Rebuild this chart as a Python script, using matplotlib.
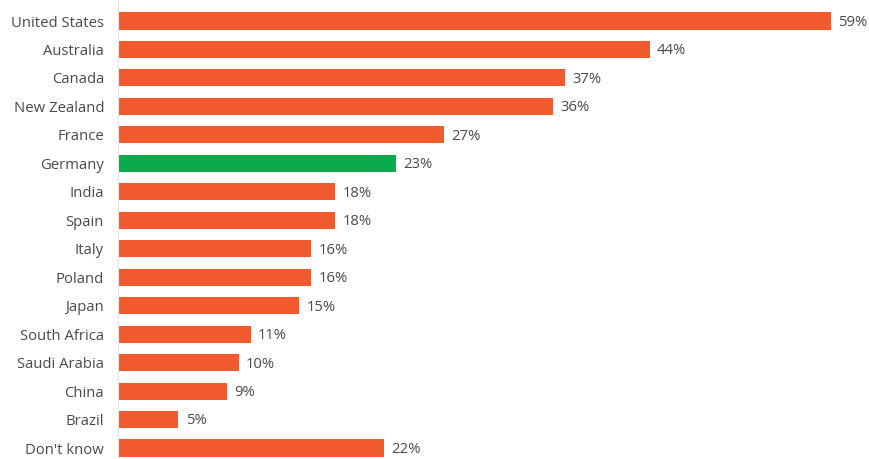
import matplotlib.pyplot as plt

countries = ["United States", "Australia", "Canada", "New Zealand", "France",
             "Germany", "India", "Spain", "Italy", "Poland", "Japan",
             "South Africa", "Saudi Arabia", "China", "Brazil", "Don't know"]
shares = [59, 44, 37, 36, 27, 23, 18, 18, 16, 16, 15, 11, 10, 9, 5, 22]
highlight = "Germany"

orange = "#f15a2e"
green = "#0aab4a"
colors = [green if c == highlight else orange for c in countries]

plt.rcParams["font.family"] = ["Open Sans", "DejaVu Sans"]

fig = plt.figure(figsize=(8.69, 4.59), dpi=100)
ax = fig.add_axes([118 / 869, 0, (869 - 118) / 869, 1])

y = list(range(len(countries)))
ax.barh(y, shares, height=0.6, color=colors)

for yi, v in zip(y, shares):
    ax.text(v + 0.6, yi + 0.05, f"{v}%", va="center", ha="left",
            fontsize=10.7, color="#4a4a4a")

ax.set_xlim(0, (869 - 118) / 12.08)
ax.set_ylim(15.386, -0.738)
ax.set_yticks(y)
ax.set_yticklabels(countries, fontsize=10.7, color="#4a4a4a")
ax.tick_params(axis="y", length=0, pad=10)
ax.set_xticks([])

for s in ["top", "right", "bottom"]:
    ax.spines[s].set_visible(False)
ax.spines["left"].set_color("#e6e6e6")
ax.spines["left"].set_linewidth(0.8)
ax.patch.set_alpha(0)

fig.savefig("out.png", dpi=100)
